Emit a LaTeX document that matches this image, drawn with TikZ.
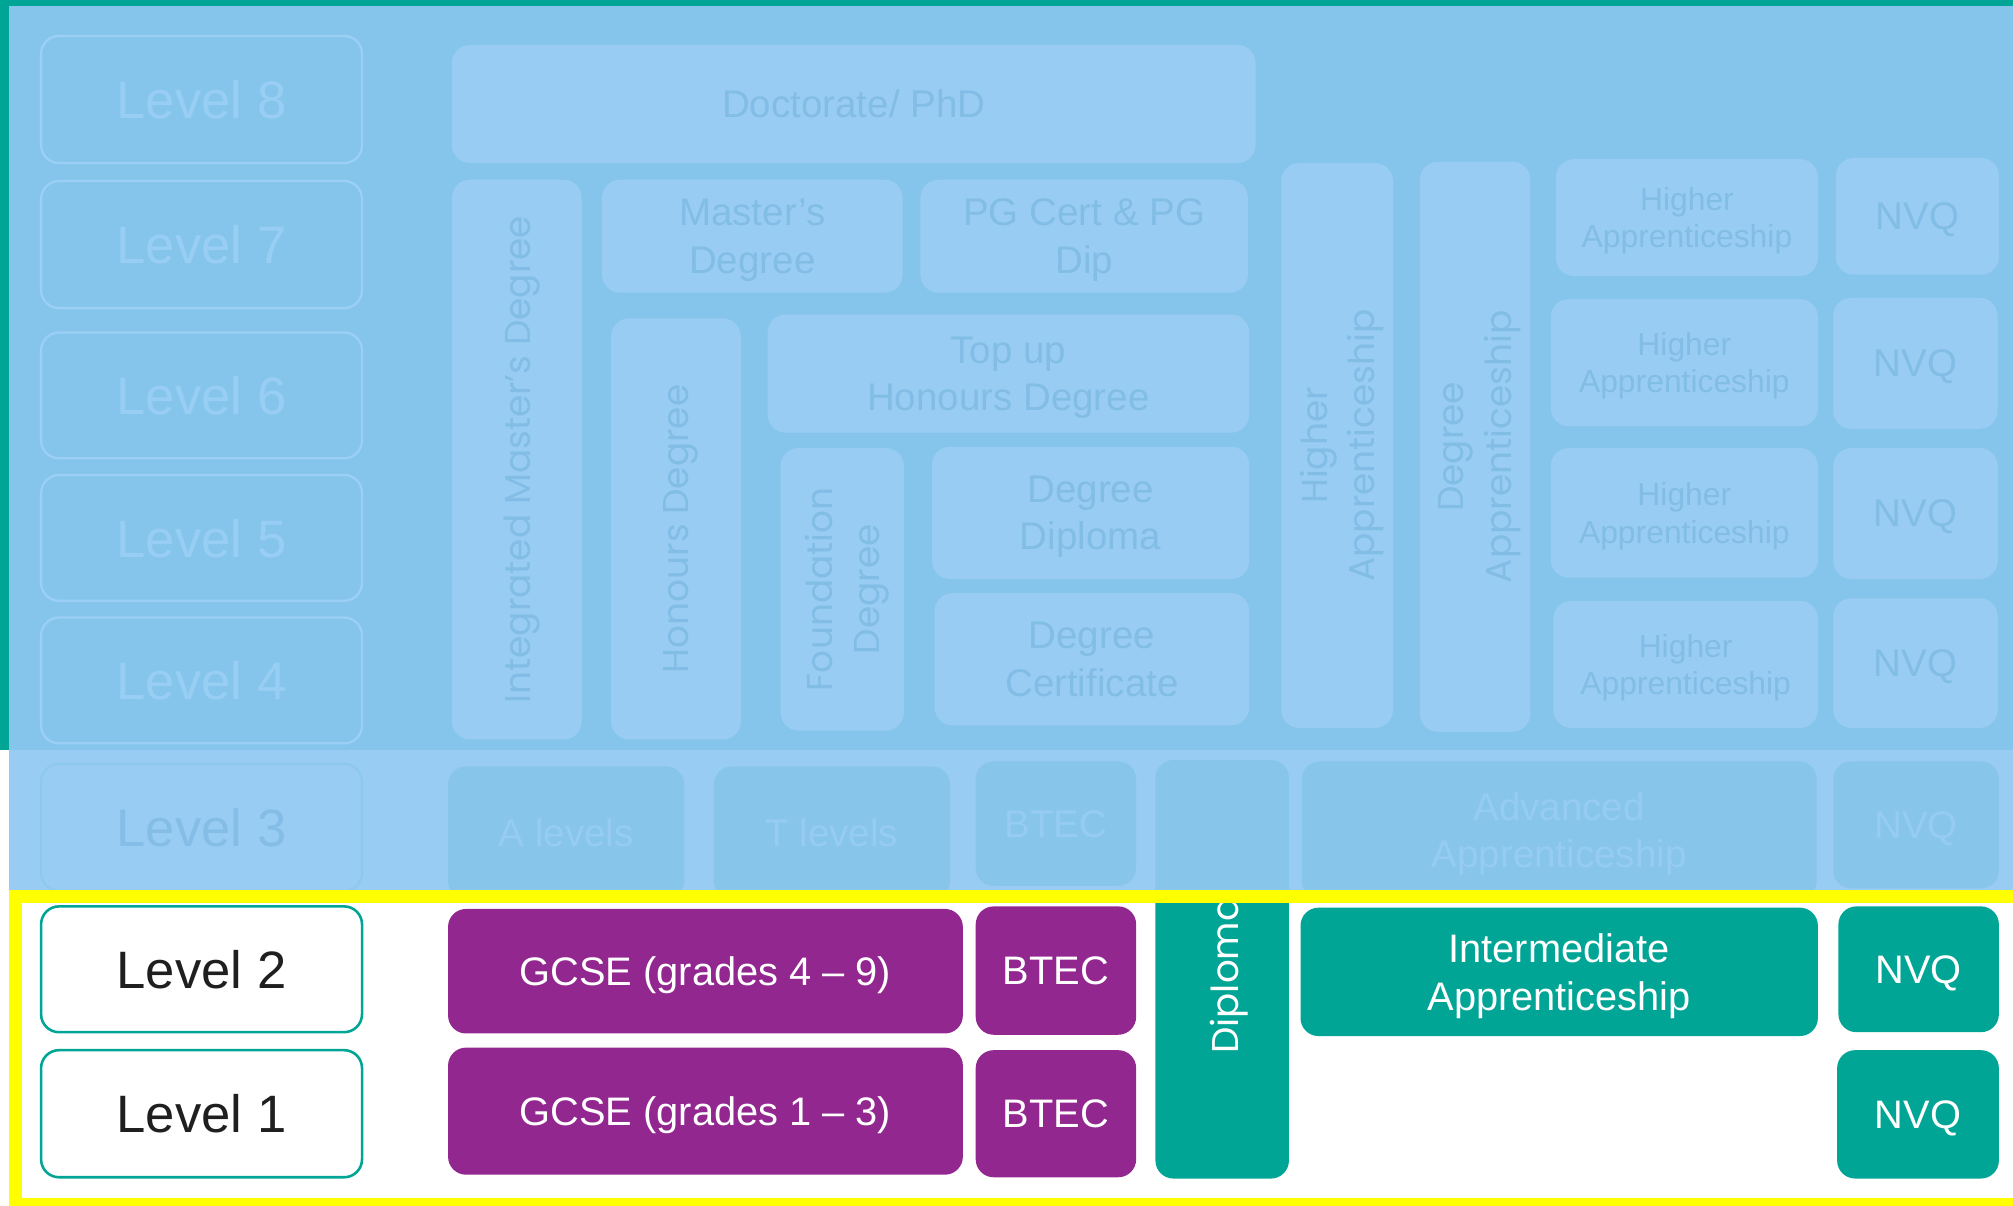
\documentclass[tikz,border=0pt]{standalone}
\usepackage{fontspec}
\setmainfont{Liberation Sans}
\newfontfamily\geo{Poppins}
\definecolor{bgtop}{HTML}{86C5EB}
\definecolor{boxtop}{HTML}{99CCF3}
\definecolor{txttop}{HTML}{82BDE6}
\definecolor{lvltxt}{HTML}{98CEF4}
\definecolor{lvlline}{HTML}{9CCFF5}
\definecolor{bandbg}{HTML}{99CCF3}
\definecolor{bandbox}{HTML}{87C5EB}
\definecolor{bandtxt}{HTML}{96CCF2}
\definecolor{lvlthreetxt}{HTML}{84BEE6}
\definecolor{lvlthreeline}{HTML}{8DC8EE}
\definecolor{tealc}{HTML}{00A595}
\definecolor{purp}{HTML}{92278F}
\definecolor{yel}{HTML}{FFFF00}
\newcommand\qbx[7]{\node[#6, minimum width={(#4-#2)*0.5pt}, minimum height={(#5-#3)*0.5pt}] (#1) at ({(#2+#4)/2},{(#3+#5)/2}) {#7};}
\tikzset{
  base/.style={rectangle, rounded corners=7pt, inner sep=0pt, outer sep=0pt, align=center, text depth=0pt},
  ubox/.style={base, fill=boxtop, text=txttop, font=\fontsize{15}{18.5}\selectfont},
  hbox/.style={base, fill=boxtop, text=txttop, font=\fontsize{12.4}{14.6}\selectfont},
  lvlu/.style={base, draw=lvlline, line width=0.9pt, fill=bgtop, text=lvltxt, font=\fontsize{20.5}{24}\selectfont},
  lvlthree/.style={base, draw=lvlthreeline, line width=0.9pt, fill=bandbg, text=lvlthreetxt, font=\fontsize{20.5}{24}\selectfont},
  lvlw/.style={base, draw=tealc, line width=1pt, fill=white, text=black!88, font=\fontsize{20.5}{24}\selectfont},
  bbox/.style={base, fill=bandbox, text=bandtxt, font=\fontsize{15}{18.5}\selectfont},
  pbox/.style={base, fill=purp, text=white, font=\fontsize{15.5}{18.5}\selectfont},
  tbox/.style={base, fill=tealc, text=white, font=\fontsize{15.5}{18.5}\selectfont},
  rot/.style={rotate=90, inner sep=0pt, align=center, text depth=0pt, font=\geo\fontsize{14}{18.5}\selectfont},
}
\begin{document}
\begin{tikzpicture}[x=0.5pt, y=-0.5pt]
\useasboundingbox (0,0) rectangle (1568,939);
\fill[white] (0,0) rectangle (1568,939);
% upper background
\fill[bgtop] (7,5) rectangle (1568,584);
\fill[tealc] (0,0) rectangle (1568,5);
\fill[tealc] (0,0) rectangle (7,584);
% level boxes (upper)
\qbx{l8}{32}{28}{282}{127}{lvlu}{Level 8}
\qbx{l7}{32}{141}{282}{240}{lvlu}{Level 7}
\qbx{l6}{32}{259}{282}{357}{lvlu}{Level 6}
\qbx{l5}{32}{370}{282}{468}{lvlu}{Level 5}
\qbx{l4}{32}{481}{282}{579}{lvlu}{Level 4}
% upper content boxes
\qbx{doc}{352}{35}{978}{127}{ubox}{Doctorate/ PhD}
\qbx{imd}{352}{140}{453}{576}{ubox}{}
\node[rot, text=txttop] (imdT) at (imd.center) {Integrated Master’s Degree};
\qbx{mas}{469}{140}{703}{228}{ubox}{Master’s\\Degree}
\qbx{pgc}{717}{140}{972}{228}{ubox}{PG Cert \& PG\\Dip}
\qbx{hon}{476}{248}{577}{576}{ubox}{}
\node[rot, text=txttop] (honT) at (hon.center) {Honours Degree};
\qbx{top}{598}{245}{973}{337}{ubox}{Top up\\Honours Degree}
\qbx{fnd}{608}{349}{704}{569}{ubox}{}
\node[rot, text=txttop] (fndT) at (fnd.center) {Foundation\\Degree};
\qbx{ddp}{726}{348}{973}{451}{ubox}{Degree\\Diploma}
\qbx{dct}{728}{462}{973}{565}{ubox}{Degree\\Certificate}
\qbx{hav}{998}{127}{1085}{567}{ubox}{}
\node[rot, text=txttop] (havT) at (hav.center) {Higher\\Apprenticeship};
\qbx{dav}{1106}{126}{1192}{570}{ubox}{}
\node[rot, text=txttop] (davT) at (dav.center) {Degree\\Apprenticeship};
\qbx{haa}{1212}{124}{1416}{215}{hbox}{Higher\\Apprenticeship}
\qbx{hab}{1208}{233}{1416}{332}{hbox}{Higher\\Apprenticeship}
\qbx{hac}{1208}{349}{1416}{450}{hbox}{Higher\\Apprenticeship}
\qbx{had}{1210}{468}{1416}{567}{hbox}{Higher\\Apprenticeship}
\qbx{nva}{1430}{123}{1557}{214}{ubox}{NVQ}
\qbx{nvb}{1428}{232}{1556}{334}{ubox}{NVQ}
\qbx{nvc}{1428}{349}{1556}{451}{ubox}{NVQ}
\qbx{nvd}{1428}{466}{1556}{567}{ubox}{NVQ}
% level 3 band
\fill[bandbg] (7,584) rectangle (1568,699);
\qbx{l3}{32}{595}{282}{694}{lvlthree}{Level 3}
\qbx{alv}{349}{597}{533}{700}{bbox}{A levels}
\qbx{tlv}{556}{597}{740}{700}{bbox}{T levels}
\qbx{btc}{760}{593}{885}{690}{bbox}{BTEC}
\qbx{dipu}{900}{592}{1004}{720}{bbox}{}
\qbx{adv}{1014}{593}{1415}{700}{bbox}{Advanced\\Apprenticeship}
\qbx{nve}{1428}{593}{1557}{692}{bbox}{NVQ}
% lower white area
\fill[white] (7,698) rectangle (1568,939);
\begin{scope}
\clip (7,698) rectangle (1568,939);
\qbx{dip}{900}{592}{1004}{918}{tbox}{}
\node[rot, text=white, font=\geo\fontsize{14.5}{18}\selectfont] (dipT) at ([xshift=1pt,yshift=1.5pt]dip.center) {Diplomas};
\end{scope}
\qbx{l2}{32}{706}{282}{804}{lvlw}{Level 2}
\qbx{l1}{32}{818}{282}{917}{lvlw}{Level 1}
\qbx{gca}{349}{708}{750}{805}{pbox}{GCSE (grades 4 – 9)}
\qbx{gcb}{349}{816}{750}{915}{pbox}{GCSE (grades 1 – 3)}
\qbx{bta}{760}{706}{885}{806}{pbox}{BTEC}
\qbx{btb}{760}{818}{885}{917}{pbox}{BTEC}
\qbx{int}{1013}{707}{1416}{807}{tbox}{Intermediate\\Apprenticeship}
\qbx{nvf}{1432}{706}{1557}{804}{tbox}{NVQ}
\qbx{nvg}{1431}{818}{1557}{918}{tbox}{NVQ}
% yellow frame
\draw[yel, line width=5pt] (12,698.5) rectangle (1574,938);
\end{tikzpicture}
\end{document}
